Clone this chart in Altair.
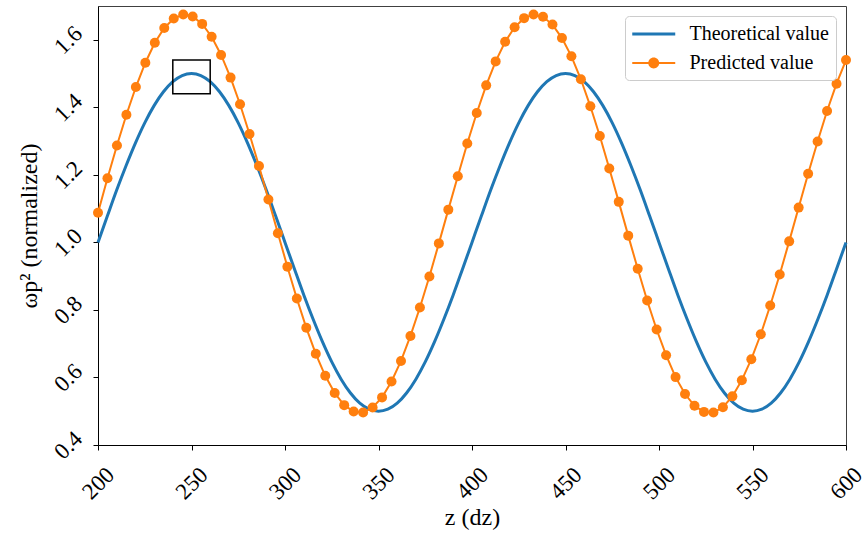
import altair as alt
import pandas as pd

# ---------------- data ----------------
theory_z = [200, 205, 210, 215, 220, 225, 230, 235, 240, 245,
            250, 255, 260, 265, 270, 275, 280, 285, 290, 295,
            300, 305, 310, 315, 320, 325, 330, 335, 340, 345,
            350, 355, 360, 365, 370, 375, 380, 385, 390, 395,
            400, 405, 410, 415, 420, 425, 430, 435, 440, 445,
            450, 455, 460, 465, 470, 475, 480, 485, 490, 495,
            500, 505, 510, 515, 520, 525, 530, 535, 540, 545,
            550, 555, 560, 565, 570, 575, 580, 585, 590, 595,
            600]
theory_v = [1.000, 1.078, 1.155, 1.227, 1.294, 1.354, 1.405, 1.446, 1.476, 1.494,
            1.500, 1.494, 1.476, 1.446, 1.405, 1.354, 1.294, 1.227, 1.155, 1.078,
            1.000, 0.922, 0.845, 0.773, 0.706, 0.646, 0.595, 0.554, 0.524, 0.506,
            0.500, 0.506, 0.524, 0.554, 0.595, 0.646, 0.706, 0.773, 0.845, 0.922,
            1.000, 1.078, 1.155, 1.227, 1.294, 1.354, 1.405, 1.446, 1.476, 1.494,
            1.500, 1.494, 1.476, 1.446, 1.405, 1.354, 1.294, 1.227, 1.155, 1.078,
            1.000, 0.922, 0.845, 0.773, 0.706, 0.646, 0.595, 0.554, 0.524, 0.506,
            0.500, 0.506, 0.524, 0.554, 0.595, 0.646, 0.706, 0.773, 0.845, 0.922,
            1.000]

pred_z = [200.00, 205.06, 210.13, 215.19, 220.25, 225.32, 230.38, 235.44, 240.51, 245.57,
          250.63, 255.70, 260.76, 265.82, 270.89, 275.95, 281.01, 286.08, 291.14, 296.20,
          301.27, 306.33, 311.39, 316.46, 321.52, 326.58, 331.65, 336.71, 341.77, 346.84,
          351.90, 356.96, 362.03, 367.09, 372.15, 377.22, 382.28, 387.34, 392.41, 397.47,
          402.53, 407.59, 412.66, 417.72, 422.78, 427.85, 432.91, 437.97, 443.04, 448.10,
          453.16, 458.23, 463.29, 468.35, 473.42, 478.48, 483.54, 488.61, 493.67, 498.73,
          503.80, 508.86, 513.92, 518.99, 524.05, 529.11, 534.18, 539.24, 544.30, 549.37,
          554.43, 559.49, 564.56, 569.62, 574.68, 579.75, 584.81, 589.87, 594.94, 600.00]
pred_v = [1.088, 1.190, 1.287, 1.378, 1.460, 1.532, 1.591, 1.635, 1.663, 1.675,
          1.669, 1.647, 1.609, 1.555, 1.488, 1.409, 1.321, 1.226, 1.127, 1.027,
          0.928, 0.834, 0.747, 0.670, 0.605, 0.554, 0.518, 0.499, 0.496, 0.511,
          0.541, 0.588, 0.649, 0.723, 0.807, 0.899, 0.997, 1.097, 1.196, 1.293,
          1.383, 1.465, 1.536, 1.594, 1.637, 1.664, 1.675, 1.668, 1.645, 1.605,
          1.551, 1.483, 1.403, 1.315, 1.219, 1.120, 1.020, 0.922, 0.828, 0.742,
          0.666, 0.601, 0.551, 0.516, 0.498, 0.496, 0.512, 0.544, 0.592, 0.654,
          0.728, 0.813, 0.905, 1.003, 1.103, 1.203, 1.299, 1.389, 1.470, 1.540]

series_names = ["Theoretical value", "Predicted value"]
series_colors = ["#1f77b4", "#ff7f0e"]

box_z = [240]
box_z2 = [260]
box_v = [1.44]
box_v2 = [1.54]

x_ticks = [200, 250, 300, 350, 400, 450, 500, 550, 600]
y_ticks = [0.4, 0.6, 0.8, 1.0, 1.2, 1.4, 1.6]

# ---------------- tables ----------------
theory_df = pd.DataFrame({"z": theory_z, "v": theory_v, "series": series_names[0]})
pred_df = pd.DataFrame({"z": pred_z, "v": pred_v, "series": series_names[1]})
box_df = pd.DataFrame({"z": box_z, "z2": box_z2, "v": box_v, "v2": box_v2})
legend_df = pd.DataFrame({"series": series_names, "z": [None, None], "v": [None, None]})

FONT = "Liberation Serif"

xscale = alt.Scale(domain=[200, 600], nice=False, zero=False)
yscale = alt.Scale(domain=[0.4, 1.7], nice=False, zero=False)

xaxis = alt.Axis(values=x_ticks, format="d", title="z (dz)", labelAngle=315,
                 labelAlign="center", labelBaseline="middle", labelPadding=33,
                 labelFlush=False, labelOverlap=False, grid=False,
                 labelFont=FONT, labelFontSize=23, titleFont=FONT, titleFontSize=24,
                 tickSize=5, titlePadding=2)
yaxis = alt.Axis(values=y_ticks, format=".1f", title="ωp² (normalized)", labelAngle=315,
                 labelAlign="center", labelBaseline="middle", labelPadding=25,
                 labelFlush=False, labelOverlap=False, grid=False,
                 labelFont=FONT, labelFontSize=23, titleFont=FONT, titleFontSize=24,
                 tickSize=5, titlePadding=9)

x_enc = alt.X("z:Q", scale=xscale, axis=xaxis)
y_enc = alt.Y("v:Q", scale=yscale, axis=yaxis)

theory_line = alt.Chart(theory_df).mark_line(
    color=series_colors[0], strokeWidth=3, interpolate="monotone"
).encode(x=x_enc, y=y_enc)

pred_line = alt.Chart(pred_df).mark_line(
    color=series_colors[1], strokeWidth=2
).encode(x="z:Q", y="v:Q")

pred_pts = alt.Chart(pred_df).mark_circle(
    color=series_colors[1], size=100, opacity=1
).encode(x="z:Q", y="v:Q")

box = alt.Chart(box_df).mark_rect(
    fill="transparent", stroke="black", strokeWidth=1.5
).encode(x="z:Q", x2="z2:Q", y="v:Q", y2="v2:Q")

# legend symbols: line for theory, line with a dot for prediction
u = 10.75
sym_theory = "M-1,-0.14H3V0.14H-1Z"
sym_pred = ("M-1,-0.093H0.5V0.093H-1Z M1.5,-0.093H3V0.093H1.5Z "
            "M0.49,0A0.51,0.51 0 1,1 1.51,0A0.51,0.51 0 1,1 0.49,0Z")

legend_layer = alt.Chart(legend_df).mark_point(
    filled=True, opacity=1, size=462, strokeWidth=0
).encode(
    x="z:Q", y="v:Q",
    color=alt.Color("series:N",
                    scale=alt.Scale(domain=series_names, range=series_colors),
                    legend=alt.Legend(title=None, orient="top-right", offset=10,
                                      symbolSize=462, symbolStrokeWidth=0,
                                      labelOffset=2 * u + 14, rowPadding=8,
                                      padding=7, labelFont=FONT, labelFontSize=20,
                                      labelColor="black", strokeColor="#cccccc",
                                      cornerRadius=4, fillColor="white")),
    shape=alt.Shape("series:N",
                    scale=alt.Scale(domain=series_names, range=[sym_theory, sym_pred]),
                    legend=alt.Legend(title=None)),
)

chart = alt.layer(theory_line, pred_line, pred_pts, box, legend_layer).properties(
    width=748, height=439,
    autosize=alt.AutoSizeParams(type="none"),
    padding={"left": 98, "top": 6, "right": 22, "bottom": 94},
).configure_view(
    stroke="#404040", strokeWidth=1
).configure_axis(
    labelFont=FONT, titleFont=FONT, labelFontSize=23, titleFontSize=24,
    labelColor="black", titleColor="black", titleFontWeight="normal",
    domainColor="black", tickColor="black", domainWidth=1, tickWidth=1,
)

chart.save("out.html", embed_options={"renderer": "svg", "actions": False})
